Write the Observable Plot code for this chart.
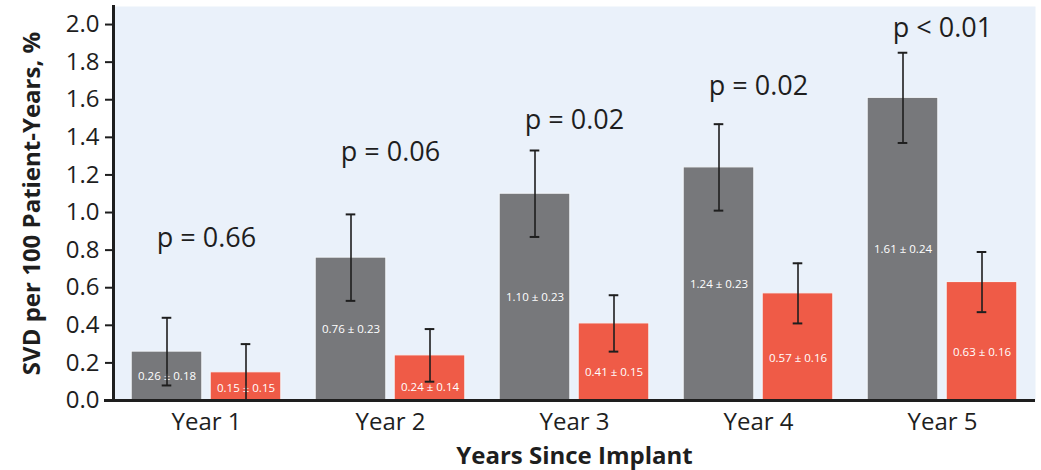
<!DOCTYPE html>
<html>
<head>
<meta charset="utf-8">
<script src="https://cdn.jsdelivr.net/npm/d3@7"></script>
<script src="https://cdn.jsdelivr.net/npm/@observablehq/plot@0.6"></script>
<style>
  html, body { margin: 0; padding: 0; background: #ffffff; }
  #chart svg { display: block; font-family: "Open Sans", sans-serif; }
  g[aria-label="x-axis label"] text, g[aria-label="y-axis label"] text { font-weight: bold; }
</style>
</head>
<body>
<div id="chart"></div>
<script>
// ---- data ----
const years = ["Year 1", "Year 2", "Year 3", "Year 4", "Year 5"];
const grayRate = [0.26, 0.76, 1.10, 1.24, 1.61];
const grayErr  = [0.18, 0.23, 0.23, 0.23, 0.24];
const redRate  = [0.15, 0.24, 0.41, 0.57, 0.63];
const redErr   = [0.15, 0.14, 0.15, 0.16, 0.16];
const pLabels  = ["p = 0.66", "p = 0.06", "p = 0.02", "p = 0.02", "p < 0.01"];
const pLabelY  = [0.86, 1.32, 1.49, 1.67, 1.98];
const yTicks   = [0, 0.2, 0.4, 0.6, 0.8, 1.0, 1.2, 1.4, 1.6, 1.8, 2.0];

// ---- build tables ----
const fmt = d3.format(".2f");
const gray = years.map((y, i) => ({year: y, v: grayRate[i], e: grayErr[i],
  label: `${fmt(grayRate[i])} ± ${fmt(grayErr[i])}`, ly: grayRate[i] / 2}));
const red = years.map((y, i) => ({year: y, v: redRate[i], e: redErr[i],
  label: `${fmt(redRate[i])} ± ${fmt(redErr[i])}`,
  ly: Math.max((redRate[i] - redErr[i]) / 2 + 0.02, 0.065)}));
const pTable = years.map((y, i) => ({year: y, p: pLabels[i], py: pLabelY[i]}));

// ---- layout ----
const W = 1041, H = 470, ML = 113, MR = 6, MT = 6, MB = 70;
const step = (W - ML - MR) / years.length;
const barW = 71, off = 39.5, capW = 10;
const inL = step / 2 - off - barW / 2;     // gray bar left inset
const inR = step - inL - barW;
const capL = step / 2 - off - capW / 2;
const capR = step - capL - capW;

const grayFill = "#77787b", redFill = "#ef5b47", ink = "#1e1e1e";

const chart = Plot.plot({
  width: W, height: H,
  marginLeft: ML, marginRight: MR, marginTop: MT, marginBottom: MB,
  style: {fontFamily: "Open Sans, sans-serif", background: "#ffffff"},
  x: {domain: years, padding: 0, type: "band"},
  y: {domain: [0, 2.096]},
  marks: [
    Plot.frame({fill: "#eaf1fa", stroke: null}),
    // bars
    Plot.barY(gray, {x: "year", y: "v", fill: grayFill, stroke: "#f4f7fb", strokeWidth: 1,
      insetLeft: inL, insetRight: inR}),
    Plot.barY(red, {x: "year", y: "v", fill: redFill, stroke: "#f4f7fb", strokeWidth: 1,
      insetLeft: inR, insetRight: inL}),
    // in-bar labels
    Plot.text(gray, {x: "year", y: "ly", text: "label", dx: -off, fill: "white",
      fontSize: 11.5, letterSpacing: -0.3}),
    Plot.text(red, {x: "year", y: "ly", text: "label", dx: off, fill: "white",
      fontSize: 11.5, letterSpacing: -0.3}),
    // error bars
    Plot.ruleX(gray, {x: "year", y1: d => d.v - d.e, y2: d => d.v + d.e, dx: -off, stroke: ink, strokeWidth: 1.6}),
    Plot.ruleX(red, {x: "year", y1: d => d.v - d.e, y2: d => d.v + d.e, dx: off, stroke: ink, strokeWidth: 1.6}),
    Plot.tickY(gray, {x: "year", y: d => d.v + d.e, stroke: ink, strokeWidth: 2, insetLeft: capL, insetRight: capR}),
    Plot.tickY(gray, {x: "year", y: d => d.v - d.e, stroke: ink, strokeWidth: 2, insetLeft: capL, insetRight: capR}),
    Plot.tickY(red, {x: "year", y: d => d.v + d.e, stroke: ink, strokeWidth: 2, insetLeft: capR, insetRight: capL}),
    Plot.tickY(red, {x: "year", y: d => Math.max(0, d.v - d.e), stroke: ink, strokeWidth: 2, insetLeft: capR, insetRight: capL}),
    // p-values
    Plot.text(pTable, {x: "year", y: "py", text: "p", fill: ink, fontSize: 27}),
    // axes
    Plot.axisY({ticks: yTicks, tickFormat: d3.format(".1f"), tickSize: 8, tickPadding: 6,
      fontSize: 24, stroke: ink, strokeWidth: 2, color: ink,
      label: "SVD per 100 Patient-Years, %", labelAnchor: "center", labelArrow: "none", labelOffset: 91}),
    Plot.axisX({tickSize: 0, tickPadding: 12, fontSize: 24, color: ink,
      label: "Years Since Implant", labelAnchor: "center", labelArrow: "none", labelOffset: 63}),
    Plot.frame({anchor: "left", stroke: ink, strokeWidth: 3}),
    Plot.ruleY([0], {stroke: ink, strokeWidth: 3, insetLeft: -9})
  ]
});
document.getElementById("chart").appendChild(chart);
</script>
</body>
</html>
